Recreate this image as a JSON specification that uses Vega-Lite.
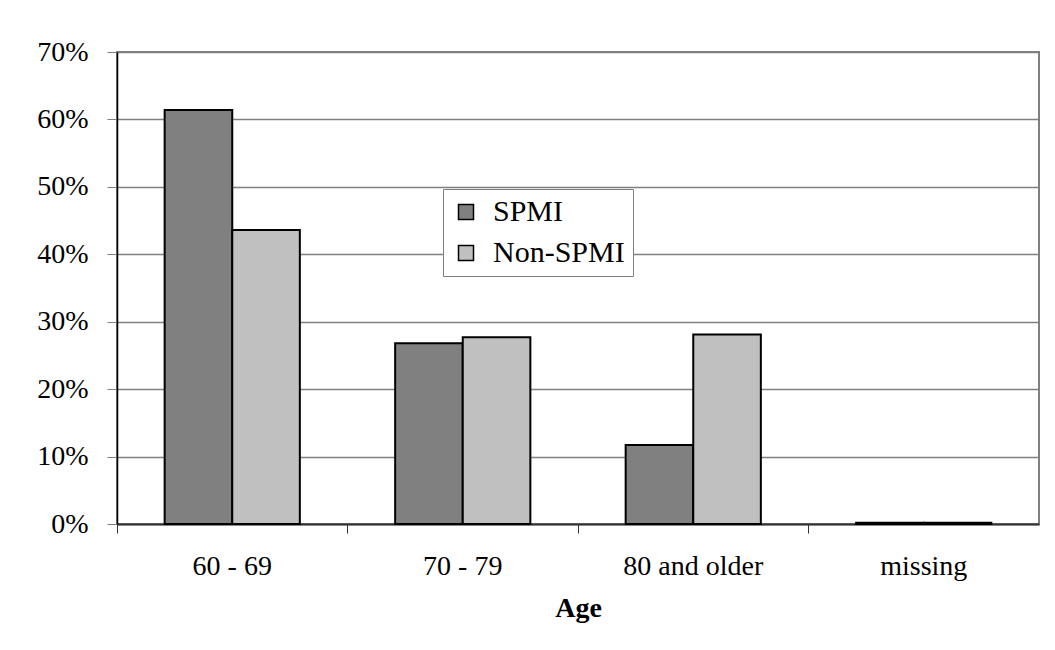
{
  "$schema": "https://vega.github.io/schema/vega-lite/v6.json",
  "autosize": "none",
  "width": 922,
  "height": 472,
  "padding": {"left": 117, "top": 52, "right": 16, "bottom": 126},
  "background": "white",
  "data": {
    "values": [
      {"age": "60 - 69", "group": "SPMI", "pct": 0.614},
      {"age": "60 - 69", "group": "Non-SPMI", "pct": 0.436},
      {"age": "70 - 79", "group": "SPMI", "pct": 0.268},
      {"age": "70 - 79", "group": "Non-SPMI", "pct": 0.277},
      {"age": "80 and older", "group": "SPMI", "pct": 0.117},
      {"age": "80 and older", "group": "Non-SPMI", "pct": 0.281},
      {"age": "missing", "group": "SPMI", "pct": 0.002},
      {"age": "missing", "group": "Non-SPMI", "pct": 0.002}
    ]
  },
  "mark": {"type": "bar", "stroke": "black", "strokeWidth": 2},
  "encoding": {
    "x": {
      "field": "age",
      "type": "nominal",
      "sort": ["60 - 69", "70 - 79", "80 and older", "missing"],
      "scale": {"paddingInner": 0, "paddingOuter": 0},
      "axis": {
        "title": "Age",
        "labelAngle": 0,
        "bandPosition": 0,
        "tickSize": 9,
        "tickColor": "#333333",
        "domainColor": "#333333",
        "domainWidth": 2,
        "labelPadding": 19,
        "labelFont": "Liberation Serif",
        "labelFontSize": 28,
        "labelColor": "black",
        "titleFont": "Liberation Serif",
        "titleFontSize": 28,
        "titleFontWeight": "bold",
        "titleColor": "black",
        "titlePadding": 14,
        "grid": false
      }
    },
    "xOffset": {
      "field": "group",
      "type": "nominal",
      "sort": ["SPMI", "Non-SPMI"],
      "scale": {"paddingInner": 0, "paddingOuter": 0.705}
    },
    "y": {
      "field": "pct",
      "type": "quantitative",
      "scale": {"domain": [0, 0.7], "nice": false},
      "axis": {
        "title": null,
        "format": ".0%",
        "values": [0, 0.1, 0.2, 0.3, 0.4, 0.5, 0.6, 0.7],
        "tickSize": 10,
        "tickColor": "#808080",
        "domainColor": "black",
        "domainWidth": 1.5,
        "labelPadding": 19,
        "labelFont": "Liberation Serif",
        "labelFontSize": 28,
        "labelColor": "black",
        "gridColor": "#808080",
        "gridWidth": 1.5
      }
    },
    "color": {
      "field": "group",
      "type": "nominal",
      "sort": ["SPMI", "Non-SPMI"],
      "scale": {"domain": ["SPMI", "Non-SPMI"], "range": ["#808080", "#C0C0C0"]},
      "legend": {
        "title": null,
        "orient": "none",
        "legendX": 326,
        "legendY": 137,
        "symbolType": "square",
        "symbolSize": 225,
        "symbolStrokeColor": "black",
        "symbolStrokeWidth": 1.5,
        "symbolOpacity": 1,
        "labelFont": "Liberation Serif",
        "labelFontSize": 30,
        "labelColor": "black",
        "labelOffset": 12,
        "rowPadding": 11,
        "padding": 8,
        "strokeColor": "#808080",
        "fillColor": "white"
      }
    }
  },
  "config": {
    "view": {"stroke": "#808080", "strokeWidth": 2}
  }
}
